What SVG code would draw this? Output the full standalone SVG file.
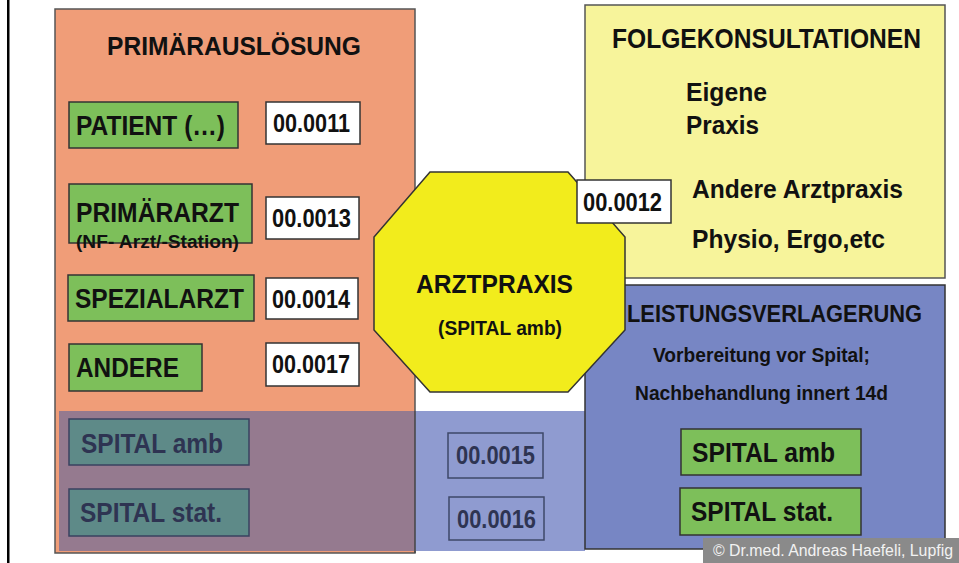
<svg xmlns="http://www.w3.org/2000/svg" width="959" height="563" viewBox="0 0 959 563">
<style>
text{font-family:"Liberation Sans",Arial,sans-serif;font-weight:bold;fill:#111}
.green{fill:#7DBF5A;stroke:#333;stroke-width:1.5}
.code{fill:#fff;stroke:#333;stroke-width:1.5}
.teal{fill:#5E8A88;stroke:#3A4260;stroke-width:1.5}
.dim{fill:none;stroke:#3E4868;stroke-width:1.5}
.lbl{font-size:27.5px}
.num{font-size:25px}
.dk{fill:#2E3452}
</style>
<rect x="0" y="0" width="959" height="563" fill="#fff"/>
<rect x="7" y="0" width="2.5" height="563" fill="#000"/>

<g id="primaerausloesung">
<rect x="55" y="9" width="360" height="544" fill="#F09D78" stroke="#555" stroke-width="1.5"/>
<text x="107" y="55" font-size="25" textLength="254" lengthAdjust="spacingAndGlyphs">PRIMÄRAUSLÖSUNG</text>
</g>

<g id="spital-overlay">
<rect x="59" y="411" width="356" height="140" fill="#957A8F"/>
<rect x="415" y="411" width="170" height="140" fill="#8F9BD0"/>
<line x1="415" y1="411" x2="415" y2="553" stroke="#444" stroke-width="1.5"/>
</g>

<g id="folgekonsultationen">
<rect x="585" y="5" width="360" height="273" fill="#F7F49B" stroke="#555" stroke-width="1.5"/>
<text x="612" y="48" font-size="27" textLength="309" lengthAdjust="spacingAndGlyphs">FOLGEKONSULTATIONEN</text>
<text x="686" y="101" font-size="26" textLength="81" lengthAdjust="spacingAndGlyphs">Eigene</text>
<text x="686" y="134" font-size="26" textLength="73" lengthAdjust="spacingAndGlyphs">Praxis</text>
<text x="692" y="198" font-size="26" textLength="211" lengthAdjust="spacingAndGlyphs">Andere Arztpraxis</text>
<text x="692" y="248" font-size="26" textLength="193" lengthAdjust="spacingAndGlyphs">Physio, Ergo,etc</text>
</g>

<g id="leistungsverlagerung">
<rect x="585" y="285" width="360" height="264" fill="#7786C4" stroke="#333" stroke-width="1.5"/>
<text x="627" y="322" font-size="24" textLength="295" lengthAdjust="spacingAndGlyphs">LEISTUNGSVERLAGERUNG</text>
<text x="653" y="362" font-size="21" textLength="217" lengthAdjust="spacingAndGlyphs">Vorbereitung vor Spital;</text>
<text x="635" y="400" font-size="21" textLength="253" lengthAdjust="spacingAndGlyphs">Nachbehandlung innert 14d</text>
</g>

<g id="arztpraxis">
<polygon points="430,172 568,172 625,237 625,330 568,392 430,392 374,330 374,237" fill="#F2EC1C" stroke="#333" stroke-width="1.5"/>
<text x="416" y="293" font-size="26.5" textLength="157" lengthAdjust="spacingAndGlyphs">ARZTPRAXIS</text>
<text x="438" y="335" font-size="19.5" textLength="124" lengthAdjust="spacingAndGlyphs">(SPITAL amb)</text>
</g>

<g id="patient">
<rect class="green" x="69" y="102" width="169" height="46"/>
<text class="lbl" x="76" y="135" textLength="149" lengthAdjust="spacingAndGlyphs">PATIENT (…)</text>
</g>
<g id="code-0011">
<rect class="code" x="266" y="102" width="94" height="42"/>
<text class="num" x="273" y="132" textLength="77" lengthAdjust="spacingAndGlyphs">00.0011</text>
</g>

<g id="primaerarzt">
<rect class="green" x="69" y="184" width="183" height="59"/>
<text class="lbl" x="76" y="222" textLength="163" lengthAdjust="spacingAndGlyphs">PRIMÄRARZT</text>
<text x="76" y="248" font-size="18" textLength="163" lengthAdjust="spacingAndGlyphs">(NF- Arzt/-Station)</text>
</g>
<g id="code-0013">
<rect class="code" x="266" y="197" width="93" height="42"/>
<text class="num" x="272" y="227" textLength="79" lengthAdjust="spacingAndGlyphs">00.0013</text>
</g>

<g id="spezialarzt">
<rect class="green" x="68" y="275" width="186" height="46"/>
<text class="lbl" x="75" y="308" textLength="169" lengthAdjust="spacingAndGlyphs">SPEZIALARZT</text>
</g>
<g id="code-0014">
<rect class="code" x="266" y="278" width="92" height="41"/>
<text class="num" x="272" y="308" textLength="78" lengthAdjust="spacingAndGlyphs">00.0014</text>
</g>

<g id="andere">
<rect class="green" x="69" y="344" width="133" height="47"/>
<text class="lbl" x="76" y="377" textLength="103" lengthAdjust="spacingAndGlyphs">ANDERE</text>
</g>
<g id="code-0017">
<rect class="code" x="266" y="343" width="93" height="43"/>
<text class="num" x="272" y="373" textLength="78" lengthAdjust="spacingAndGlyphs">00.0017</text>
</g>

<g id="spital-amb-left">
<rect class="teal" x="69" y="419" width="180" height="46"/>
<text class="lbl dk" x="81" y="453" textLength="142" lengthAdjust="spacingAndGlyphs">SPITAL amb</text>
</g>
<g id="spital-stat-left">
<rect class="teal" x="69" y="489" width="180" height="47"/>
<text class="lbl dk" x="80" y="522" textLength="142" lengthAdjust="spacingAndGlyphs">SPITAL stat.</text>
</g>

<g id="code-0015">
<rect class="dim" x="448" y="433" width="95" height="45"/>
<text class="num dk" x="456" y="464" textLength="79" lengthAdjust="spacingAndGlyphs">00.0015</text>
</g>
<g id="code-0016">
<rect class="dim" x="449" y="497" width="95" height="43"/>
<text class="num dk" x="457" y="528" textLength="79" lengthAdjust="spacingAndGlyphs">00.0016</text>
</g>

<g id="code-0012">
<rect class="code" x="577" y="180" width="94" height="43"/>
<text class="num" x="583" y="211" textLength="79" lengthAdjust="spacingAndGlyphs">00.0012</text>
</g>

<g id="spital-amb-right">
<rect class="green" x="681" y="429" width="180" height="46"/>
<text class="lbl" x="692" y="462" textLength="143" lengthAdjust="spacingAndGlyphs">SPITAL amb</text>
</g>
<g id="spital-stat-right">
<rect class="green" x="680" y="488" width="181" height="47"/>
<text class="lbl" x="691" y="521" textLength="142" lengthAdjust="spacingAndGlyphs">SPITAL stat.</text>
</g>

<g id="connectors"></g>

<g id="copyright">
<rect x="703" y="538" width="256" height="25" fill="#8A8A8A"/>
<text x="713" y="556" font-size="16" style="font-weight:normal;fill:#F2F2F2" textLength="240" lengthAdjust="spacingAndGlyphs">© Dr.med. Andreas Haefeli, Lupfig</text>
</g>
</svg>
